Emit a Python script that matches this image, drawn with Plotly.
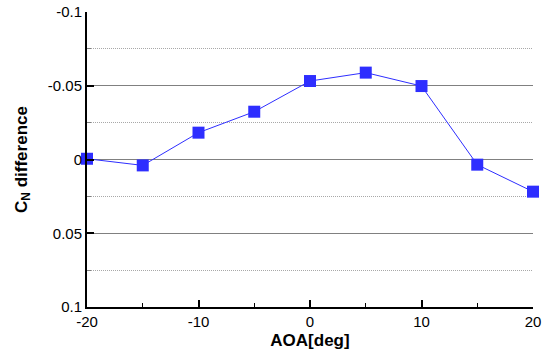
import plotly.graph_objects as go

aoa = [-20, -15, -10, -5, 0, 5, 10, 15, 20]
cn_diff = [-0.0005, 0.004, -0.0182, -0.0324, -0.0532, -0.0589, -0.0498, 0.0035, 0.0218]

y_tickvals = [-0.1, -0.05, 0, 0.05, 0.1]
y_ticktext = ["-0.1", "-0.05", "0", "0.05", "0.1"]
x_tickvals = [-20, -10, 0, 10, 20]
x_ticktext = ["-20", "-10", "0", "10", "20"]

blue = "#2e2eff"

fig = go.Figure()
fig.add_trace(go.Scatter(
    x=aoa, y=cn_diff, mode="lines+markers",
    line=dict(color=blue, width=1),
    marker=dict(symbol="square", size=12, color=blue),
    cliponaxis=False, showlegend=False,
))

font = "Liberation Sans, Arial, sans-serif"
fig.update_layout(
    width=547, height=351,
    margin=dict(l=87, r=14, t=12, b=44, autoexpand=False),
    paper_bgcolor="white", plot_bgcolor="white",
    font=dict(family=font, size=15, color="black"),
    xaxis=dict(
        range=[-20, 20], tickvals=x_tickvals, ticktext=x_ticktext,
        showgrid=False, zeroline=False, automargin=False,
        showline=True, linecolor="black", linewidth=2,
        ticks="inside", ticklen=7, tickwidth=1.5, tickcolor="black",
        tickfont=dict(size=15),
        minor=dict(dtick=5, ticks="inside", ticklen=4, tickwidth=1, tickcolor="black", showgrid=False),
        title=dict(text="<b>AOA[deg]</b>", font=dict(size=17, family=font), standoff=5),
    ),
    yaxis=dict(
        range=[0.1, -0.1], autorange=False,
        tickvals=y_tickvals, ticktext=y_ticktext,
        showgrid=True, gridcolor="#808080", gridwidth=1,
        zeroline=False, automargin=False,
        showline=True, linecolor="black", linewidth=2,
        ticks="inside", ticklen=7, tickwidth=1.5, tickcolor="black",
        tickfont=dict(size=15),
        minor=dict(dtick=0.025, tick0=0, ticks="inside", ticklen=4, tickwidth=1, tickcolor="#808080",
                   showgrid=True, gridcolor="#a8a8a8", griddash="1px,1px", gridwidth=1),
        title=dict(text="<b>C<sub>N</sub> difference</b>", font=dict(size=17, family=font), standoff=16),
    ),
)

fig.write_html("out.html")
